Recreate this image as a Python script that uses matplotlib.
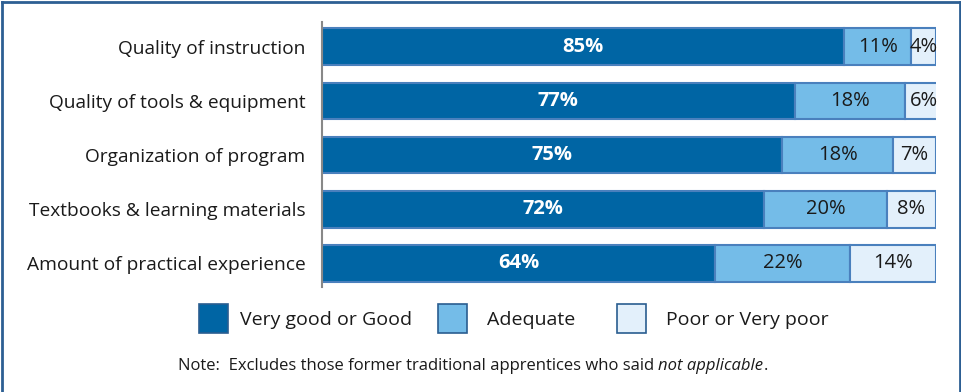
import matplotlib.pyplot as plt
from matplotlib.patches import Rectangle
from matplotlib.lines import Line2D

plt.rcParams['font.family'] = ['Open Sans', 'DejaVu Sans']

categories = ['Quality of instruction', 'Quality of tools & equipment',
              'Organization of program', 'Textbooks & learning materials',
              'Amount of practical experience']
good = [85, 77, 75, 72, 64]
adequate = [11, 18, 18, 20, 22]
poor = [4, 6, 7, 8, 14]
series_names = ['Very good or Good', 'Adequate', 'Poor or Very poor']

colors = ['#0065a4', '#74bce8', '#e3f0fb']
edge = '#4a80bd'
text_colors = ['white', '#1a1a1a', '#1a1a1a']

W, H = 962, 392
fig = plt.figure(figsize=(W / 100, H / 100), dpi=100)
ax = fig.add_axes([322 / W, 1 - 287 / H, 614 / W, 265 / H])

ypos = list(range(len(categories)))
left = [0] * len(categories)
for vals, c, tc, name in zip([good, adequate, poor], colors, text_colors, series_names):
    bars = ax.barh(ypos, vals, left=left, height=0.68, color=c, edgecolor=edge,
                   linewidth=1.5, label=name)
    for b, v in zip(bars, vals):
        ax.text(b.get_x() + b.get_width() / 2, b.get_y() + b.get_height() / 2,
                f'{v}%', ha='center', va='center', color=tc, fontsize=14.5,
                fontweight='bold' if tc == 'white' else 'normal')
    left = [l + v for l, v in zip(left, vals)]

ax.set_xlim(0, 100)
ax.set_ylim(4.44, -0.46)
ax.set_yticks(ypos)
ax.set_yticklabels(categories, fontsize=13.8, color='#1a1a1a')
ax.tick_params(axis='y', length=0, pad=12)
ax.set_xticks([])
for s in ['top', 'right', 'bottom']:
    ax.spines[s].set_visible(False)
ax.spines['left'].set_color('#888888')
ax.spines['left'].set_linewidth(1.5)

# legend drawn by hand in figure pixels: (square left, text left)
legend_items = [(199, 240), (438, 487), (617, 666)]
for (sx, tx), c, name in zip(legend_items, colors, series_names):
    fig.patches.append(Rectangle((sx / W, 1 - 333 / H), 29 / W, 29 / H,
                                 transform=fig.transFigure, facecolor=c,
                                 edgecolor='#2a5d90', linewidth=1.2))
    fig.text(tx / W, 1 - 320 / H, name, fontsize=14, va='center', color='#1a1a1a')

# footnote, italic part chained after the plain part
note = fig.text(178 / W, 1 - 366 / H,
                'Note:  Excludes those former traditional apprentices who said ',
                fontsize=12, va='center', color='#1a1a1a')
ital = fig.text(0, 0, 'not applicable', fontsize=12, va='bottom', style='italic',
                color='#1a1a1a')
fig.canvas.draw()
bb = note.get_window_extent()
ital.set_position((bb.x1 / W, bb.y0 / H))
fig.canvas.draw()
bb2 = ital.get_window_extent()
fig.text(bb2.x1 / W, bb.y0 / H, '.', fontsize=12, va='bottom', color='#1a1a1a')

# frame on left, top and right
frame = '#2d5f93'
fig.lines.append(Line2D([2 / W, 2 / W], [0, 1 - 2 / H], transform=fig.transFigure, color=frame, lw=2))
fig.lines.append(Line2D([2 / W, 960 / W], [1 - 2 / H, 1 - 2 / H], transform=fig.transFigure, color=frame, lw=2))
fig.lines.append(Line2D([960 / W, 960 / W], [0, 1 - 2 / H], transform=fig.transFigure, color=frame, lw=2))

fig.savefig('out.png', dpi=100)
